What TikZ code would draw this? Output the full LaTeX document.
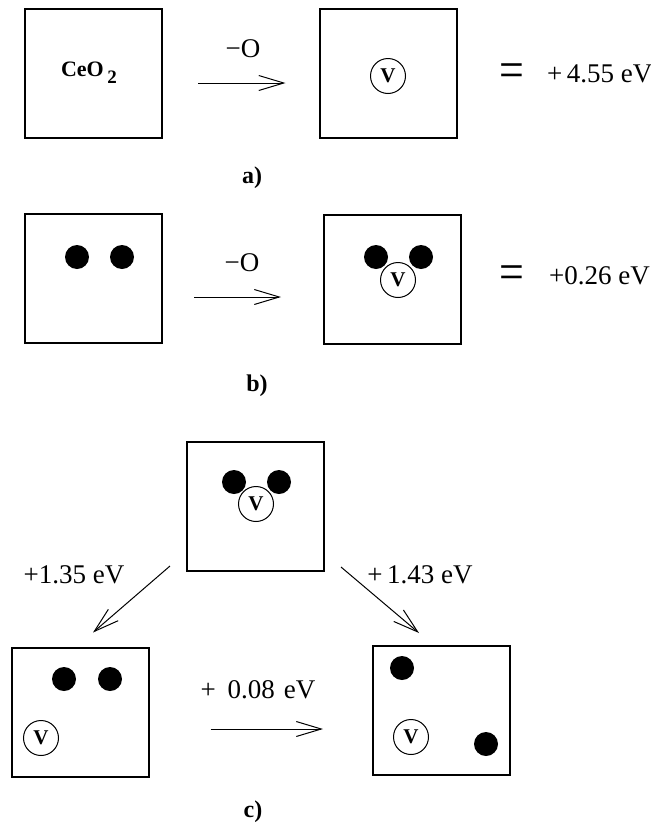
\documentclass[tikz,border=0pt]{standalone}
\usepackage{fontspec}
\setmainfont{Liberation Serif}
\usetikzlibrary{arrows.meta, positioning}

\begin{document}
\begin{tikzpicture}[
  x=0.5pt, y=-0.5pt,
  cell/.style={rectangle, draw, line width=1pt, minimum width=68.5pt, minimum height=64.5pt, inner sep=0pt},
  atom/.style={circle, fill=black, minimum size=12pt, inner sep=0pt},
  vac/.style={circle, draw, fill=white, line width=0.5pt, minimum size=17.5pt, inner sep=0pt, font=\fontsize{10.5}{12}\selectfont\bfseries},
  arr/.style={line width=0.5pt, -{Straight Barb[length=12.5pt, width=7.5pt]}},
  energy/.style={font=\fontsize{13.5}{16}\selectfont},
  tag/.style={font=\fontsize{12}{14}\selectfont\bfseries},
  eq/.style={font=\fontsize{20}{22}\selectfont},
]
  \useasboundingbox (0,0) rectangle (651,825);

  % a) bulk vacancy
  \node[cell] (a1) at (93.5, 73.5) {};
  \node[font=\fontsize{11}{13}\selectfont\bfseries] (ceo) at (89, 73) {CeO\,\raisebox{-0.7ex}{\fontsize{9.5}{11}\selectfont 2}};
  \node[cell] (a2) at (388, 73.5) {};
  \node[vac] (va) at (388, 76) {V};
  \draw[arr] ([shift={(35,9.5)}]a1.east) -- ([shift={(-33,9.5)}]a2.west);
  \node[energy] (oa) at (243, 49) {−O};
  \node[eq] (eqa) at (512, 76) {\scalebox{1.1}[1.3]{=}};
  \node[energy, anchor=west] (ea) at (540, 74) {+\,4.55 eV};
  \node[tag] (la) at (252, 178) {a)};

  % b) vacancy next to the pair
  \node[cell] (b1) at (93.5, 278) {};
  \node[atom] (b1l) at (77, 257) {};
  \node[atom] (b1r) at (122, 257) {};
  \node[cell] (b2) at (392.5, 279.5) {};
  \node[atom] (b2l) at (376, 257) {};
  \node[atom] (b2r) at (421, 257) {};
  \node[vac] (vb) at (398, 280) {V};
  \draw[arr] ([shift={(31,19)}]b1.east) -- ([shift={(-42,17.5)}]b2.west);
  \node[energy] (ob) at (242, 263) {−O};
  \node[eq] (eqb) at (512, 278) {\scalebox{1.1}[1.3]{=}};
  \node[energy, anchor=west] (eb) at (542, 276) {+0.26 eV};
  \node[tag] (lb) at (257, 386) {b)};

  % c) moving the vacancy away
  \node[cell] (c1) at (255.5, 506.5) {};
  \node[atom] (c1l) at (234, 482) {};
  \node[atom] (c1r) at (279, 482) {};
  \node[vac] (vc1) at (256, 504) {V};
  \node[cell] (c2) at (80, 712) {};
  \node[atom] (c2l) at (64, 679) {};
  \node[atom] (c2r) at (110, 679) {};
  \node[vac] (vc2) at (41, 738) {V};
  \node[cell] (c3) at (441.5, 710.5) {};
  \node[atom] (c3t) at (402, 668) {};
  \node[atom] (c3b) at (486, 744) {};
  \node[vac] (vc3) at (411, 737) {V};

  \draw[arr] ([shift={(-16,-6)}]c1.south west) -- ([shift={(13,-14)}]c2.north);
  \draw[arr] ([shift={(16,-5)}]c1.south east) -- ([shift={(-22.5,-12)}]c3.north);
  \draw[arr] ([shift={(61,17)}]c2.east) -- ([shift={(-49,18.5)}]c3.west);
  \node[energy] (e1) at (74, 575) {+1.35 eV};
  \node[energy] (e2) at (420, 575) {+\,1.43 eV};
  \node[energy] (e3) at (258, 690) {+\hspace{6pt}0.08\hspace{4.5pt}eV};
  \node[tag] (lc) at (253, 812) {c)};
\end{tikzpicture}
\end{document}
